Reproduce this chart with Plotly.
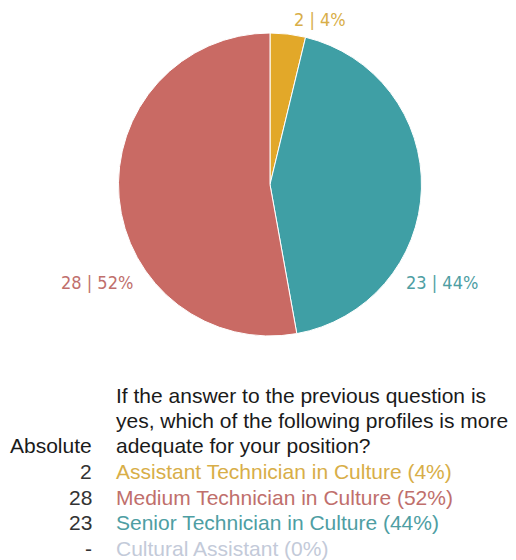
import plotly.graph_objects as go

# Survey answers: profile, absolute count, share shown in the labels
profiles = [
    "Assistant Technician in Culture",
    "Medium Technician in Culture",
    "Senior Technician in Culture",
    "Cultural Assistant",
]
counts = [2, 28, 23, 0]
shares = [4, 52, 44, 0]
colors = ["#E2A829", "#C96A64", "#3F9FA5", "#C5CCDD"]
text_colors = ["#D8AE48", "#C06F6C", "#4E9EA3", "#C3CAD9"]

question_lines = [
    "If the answer to the previous question is",
    "yes, which of the following profiles is more",
    "adequate for your position?",
]

# Clockwise from 12 o'clock: Assistant, Senior, Medium
pie_order = [0, 2, 1]

W, H = 516, 560


def px(x):
    return x / W


def py(y):
    return 1 - y / H


fig = go.Figure()
fig.add_trace(go.Pie(
    labels=[profiles[i] for i in pie_order],
    values=[counts[i] for i in pie_order],
    marker=dict(colors=[colors[i] for i in pie_order],
                line=dict(color="white", width=1)),
    sort=False,
    direction="clockwise",
    rotation=0,
    textinfo="none",
    hoverinfo="label+value+percent",
    showlegend=False,
    domain=dict(x=[px(118), px(422)], y=[py(336), py(33)]),
))

annotations = []

# Slice labels "count | share%"
label_pos = {0: (320, 20), 2: (442, 282), 1: (97, 282)}
for i, (lx, ly) in label_pos.items():
    annotations.append(dict(
        x=px(lx), y=py(ly), xref="paper", yref="paper",
        text=f"{counts[i]} | {shares[i]}%",
        showarrow=False, xanchor="center", yanchor="middle",
        font=dict(family="DejaVu Sans Condensed, Roboto, sans-serif",
                  size=18, color=text_colors[i]),
    ))

body_font = "Liberation Sans, Arial, sans-serif"
fs = 21
step = 25.5
line_y = [395 + k * step for k in range(7)]

for text, ly in zip(question_lines, line_y[:3]):
    annotations.append(dict(
        x=px(114), y=py(ly), xref="paper", yref="paper", text=text,
        showarrow=False, xanchor="left", yanchor="middle",
        font=dict(family=body_font, size=fs, color="#1A1A1A"),
    ))
annotations.append(dict(
    x=px(94), y=py(line_y[2]), xref="paper", yref="paper", text="Absolute",
    showarrow=False, xanchor="right", yanchor="middle",
    font=dict(family=body_font, size=fs, color="#1A1A1A"),
))

for i, ly in enumerate(line_y[3:]):
    num = str(counts[i]) if counts[i] else "-"
    annotations.append(dict(
        x=px(94), y=py(ly), xref="paper", yref="paper", text=num,
        showarrow=False, xanchor="right", yanchor="middle",
        font=dict(family=body_font, size=fs, color="#333333"),
    ))
    annotations.append(dict(
        x=px(114), y=py(ly), xref="paper", yref="paper",
        text=f"{profiles[i]} ({shares[i]}%)",
        showarrow=False, xanchor="left", yanchor="middle",
        font=dict(family=body_font, size=fs, color=text_colors[i]),
    ))

fig.update_layout(
    width=W, height=H,
    margin=dict(l=0, r=0, t=0, b=0),
    paper_bgcolor="white", plot_bgcolor="white",
    annotations=annotations,
)

fig.write_html("out.html")
